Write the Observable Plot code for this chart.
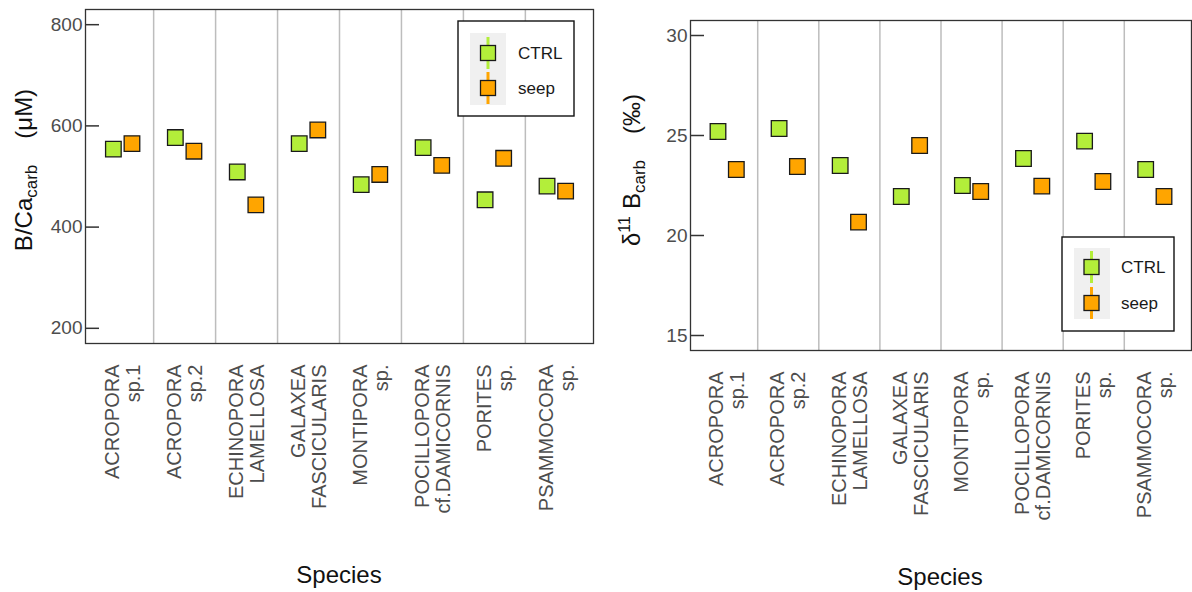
<!DOCTYPE html>
<html><head><meta charset="utf-8">
<script src="https://cdn.jsdelivr.net/npm/d3@7"></script>
<script src="https://cdn.jsdelivr.net/npm/@observablehq/plot@0.6"></script>
<style>
body{margin:0;background:#fff;font-family:"Liberation Sans",Arial,sans-serif;}
#wrap{display:flex;width:1192px;height:592px;overflow:hidden;}
#wrap svg{flex:none;display:block;}
</style></head><body><div id="wrap"></div>
<script>
// ---- data ----
const species = ["ACROPORA\nsp.1","ACROPORA\nsp.2","ECHINOPORA\nLAMELLOSA","GALAXEA\nFASCICULARIS","MONTIPORA\nsp.","POCILLOPORA\ncf.DAMICORNIS","PORITES\nsp.","PSAMMOCORA\nsp."];
const treatments = ["CTRL","seep"];
const treatmentColors = ["#b3ee3a","#ffa500"];
const bcaCtrl = [554, 577, 509, 565, 484, 557, 454, 481];
const bcaSeep = [565, 550, 444, 592, 504, 522, 536, 471];
const d11Ctrl = [25.2, 25.35, 23.5, 21.95, 22.5, 23.85, 24.72, 23.3];
const d11Seep = [23.3, 23.45, 20.67, 24.5, 22.2, 22.47, 22.7, 21.95];
const bcaTicks = [200, 400, 600, 800];
const d11Ticks = [15, 20, 25, 30];

const FONT = '"Liberation Sans", Arial, sans-serif';
const dodge = {CTRL: -0.15, seep: 0.15};

function panel({width, marginLeft, marginRight, marginTop, marginBottom, ctrl, seep, yDomain, yTicks}) {
  const rows = species.flatMap((s, i) => [
    {species: s, pos: i + 1, treatment: "CTRL", value: ctrl[i]},
    {species: s, pos: i + 1, treatment: "seep", value: seep[i]}
  ]);
  return Plot.plot({
    width, height: 592, marginLeft, marginRight, marginTop, marginBottom,
    style: {fontFamily: FONT, background: "white", overflow: "visible"},
    x: {domain: [0.4, species.length + 0.6]},
    y: {domain: yDomain},
    color: {domain: treatments, range: treatmentColors},
    marks: [
      Plot.ruleX(d3.range(1.5, species.length, 1), {stroke: "#bdbdbd", strokeWidth: 1.5}),
      Plot.frame({stroke: "#333", strokeWidth: 1.3}),
      Plot.axisY({ticks: yTicks, tickSize: -14, tickPadding: 17, fontSize: 19, stroke: "#333", strokeWidth: 1.5, fill: "#4d4d4d", label: null}),
      Plot.axisX({ticks: d3.range(1, species.length + 1), tickFormat: d => species[d - 1], tickSize: 0, tickPadding: 21,
                  tickRotate: -90, fontSize: 20, textAnchor: "end", lineAnchor: "middle", lineHeight: 1.05, fill: "#4d4d4d", label: null}),
      Plot.dot(rows, {x: d => d.pos + dodge[d.treatment], y: "value", fill: "treatment", symbol: "square", r: 8.8, stroke: "#1a1a1a", strokeWidth: 1.3})
    ]
  });
}

function legend(svg, bx, by, bw, bh, kx, ky, kw, kh, cx, cys, lx) {
  const g = svg.append("g").attr("text-anchor", "start");
  g.append("rect").attr("x", bx).attr("y", by).attr("width", bw).attr("height", bh).attr("fill", "white").attr("stroke", "#111").attr("stroke-width", 1.4);
  g.append("rect").attr("x", kx).attr("y", ky).attr("width", kw).attr("height", kh).attr("fill", "#f0f0f0");
  treatments.forEach((t, i) => {
    const cy = cys[i];
    g.append("line").attr("x1", cx).attr("x2", cx).attr("y1", cy - 16).attr("y2", cy + 16).attr("stroke", treatmentColors[i]).attr("stroke-width", 3);
    g.append("rect").attr("x", cx - 7.5).attr("y", cy - 7.5).attr("width", 15).attr("height", 15).attr("fill", treatmentColors[i]).attr("stroke", "#1a1a1a").attr("stroke-width", 1.3);
    g.append("text").attr("x", lx).attr("y", cy).attr("dy", "0.35em").attr("text-anchor", "start").attr("font-size", 17).attr("fill", "#1a1a1a").attr("font-family", FONT).text(t);
  });
}

function xTitle(svg, x, y) {
  svg.append("text").attr("x", x).attr("y", y).attr("text-anchor", "middle").attr("font-size", 24).attr("fill", "#111").attr("font-family", FONT).text("Species");
}

const wrap = d3.select("#wrap");

// Left panel
const left = panel({width: 600, marginLeft: 85, marginRight: 7, marginTop: 9, marginBottom: 249,
  ctrl: bcaCtrl, seep: bcaSeep, yDomain: [170, 830], yTicks: bcaTicks});
wrap.node().appendChild(left);
const ls = d3.select(left);
{
  const t = ls.append("text").attr("transform", "translate(32,170) rotate(-90)").attr("text-anchor", "middle")
    .attr("font-size", 24).attr("fill", "#111").attr("font-family", FONT);
  t.append("tspan").text("B/Ca");
  t.append("tspan").attr("font-size", 17).attr("dy", 5).text("carb");
  t.append("tspan").attr("dy", -5).attr("dx", 26).text("(μM)");
}
legend(ls, 458, 21, 116, 95, 470, 33, 36, 72, 488, [53, 88], 518);
xTitle(ls, 339, 583);

// Right panel
const right = panel({width: 592, marginLeft: 90, marginRight: 1, marginTop: 20, marginBottom: 242,
  ctrl: d11Ctrl, seep: d11Seep, yDomain: [14.25, 30.75], yTicks: d11Ticks});
wrap.node().appendChild(right);
const rs = d3.select(right);
{
  const t = rs.append("text").attr("transform", "translate(40,170) rotate(-90)").attr("text-anchor", "middle")
    .attr("font-size", 24).attr("fill", "#111").attr("font-family", FONT);
  t.append("tspan").text("δ");
  t.append("tspan").attr("font-size", 16).attr("dy", -10).text("11");
  t.append("tspan").attr("dy", 10).attr("dx", 7).text("B");
  t.append("tspan").attr("font-size", 17).attr("dy", 5).text("carb");
  t.append("tspan").attr("dy", -5).attr("dx", 26).text("(‰)");
}
legend(rs, 462, 237, 112, 94, 474, 248, 36, 71, 491.5, [267, 303], 521);
xTitle(rs, 340, 585);
</script></body></html>
